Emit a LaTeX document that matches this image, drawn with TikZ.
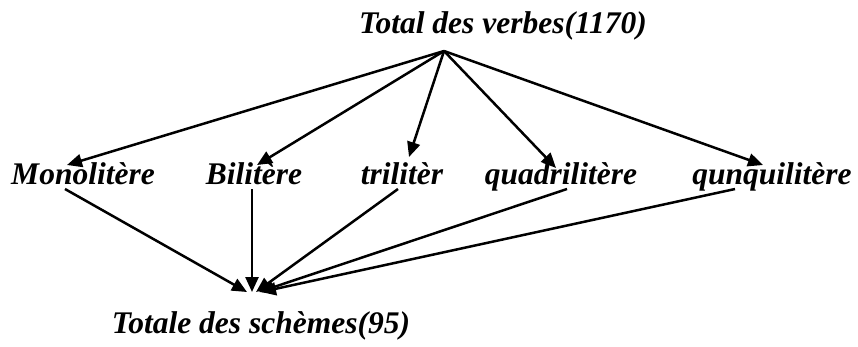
\documentclass[tikz,border=0pt]{standalone}
\usepackage{fontspec}
\setmainfont{Liberation Serif}
\usetikzlibrary{arrows.meta}
\begin{document}
\begin{tikzpicture}[x=1pt,y=-1pt,
  lbl/.style={inner sep=0pt,anchor=base,font=\fontsize{31.5}{38}\selectfont\bfseries\itshape},
  conn/.style={line width=2.5pt,-{Triangle[length=15pt,width=13pt]}}]
\useasboundingbox (0,0) rectangle (858,346);
\node[lbl] (top) at (503,33) {Total des verbes(1170)};
\node[lbl] (mono) at (83,184) {Monolitère};
\node[lbl] (bili) at (254,184) {Bilitère};
\node[lbl] (tri) at (402,184) {trilitèr};
\node[lbl] (quad) at (561,184) {quadrilitère};
\node[lbl] (qun) at (772,184) {qunquilitère};
\node[lbl] (bot) at (261,333) {Totale des schèmes(95)};
\coordinate (apex) at (444,51);
\coordinate (tm) at (67,165);
\coordinate (tb) at (257,165);
\coordinate (tt) at (409,157);
\coordinate (tq) at (556,168);
\coordinate (tn) at (763,165);
\draw[conn] (apex) -- (tm);
\draw[conn] (apex) -- (tb);
\draw[conn] (apex) -- (tt);
\draw[conn] (apex) -- (tq);
\draw[conn] (apex) -- (tn);
\coordinate (bm) at (65,189);
\coordinate (bb) at (252,189);
\coordinate (bt) at (398,189);
\coordinate (bq) at (567,189);
\coordinate (bn) at (735,189);
\coordinate (s1) at (247,292);
\coordinate (s2) at (252,292);
\coordinate (s3) at (256,292);
\coordinate (s4) at (259,292);
\coordinate (s5) at (261,292);
\draw[conn] (bm) -- (s1);
\draw[conn] (bb) -- (s2);
\draw[conn] (bt) -- (s3);
\draw[conn] (bq) -- (s4);
\draw[conn] (bn) -- (s5);
\end{tikzpicture}
\end{document}
